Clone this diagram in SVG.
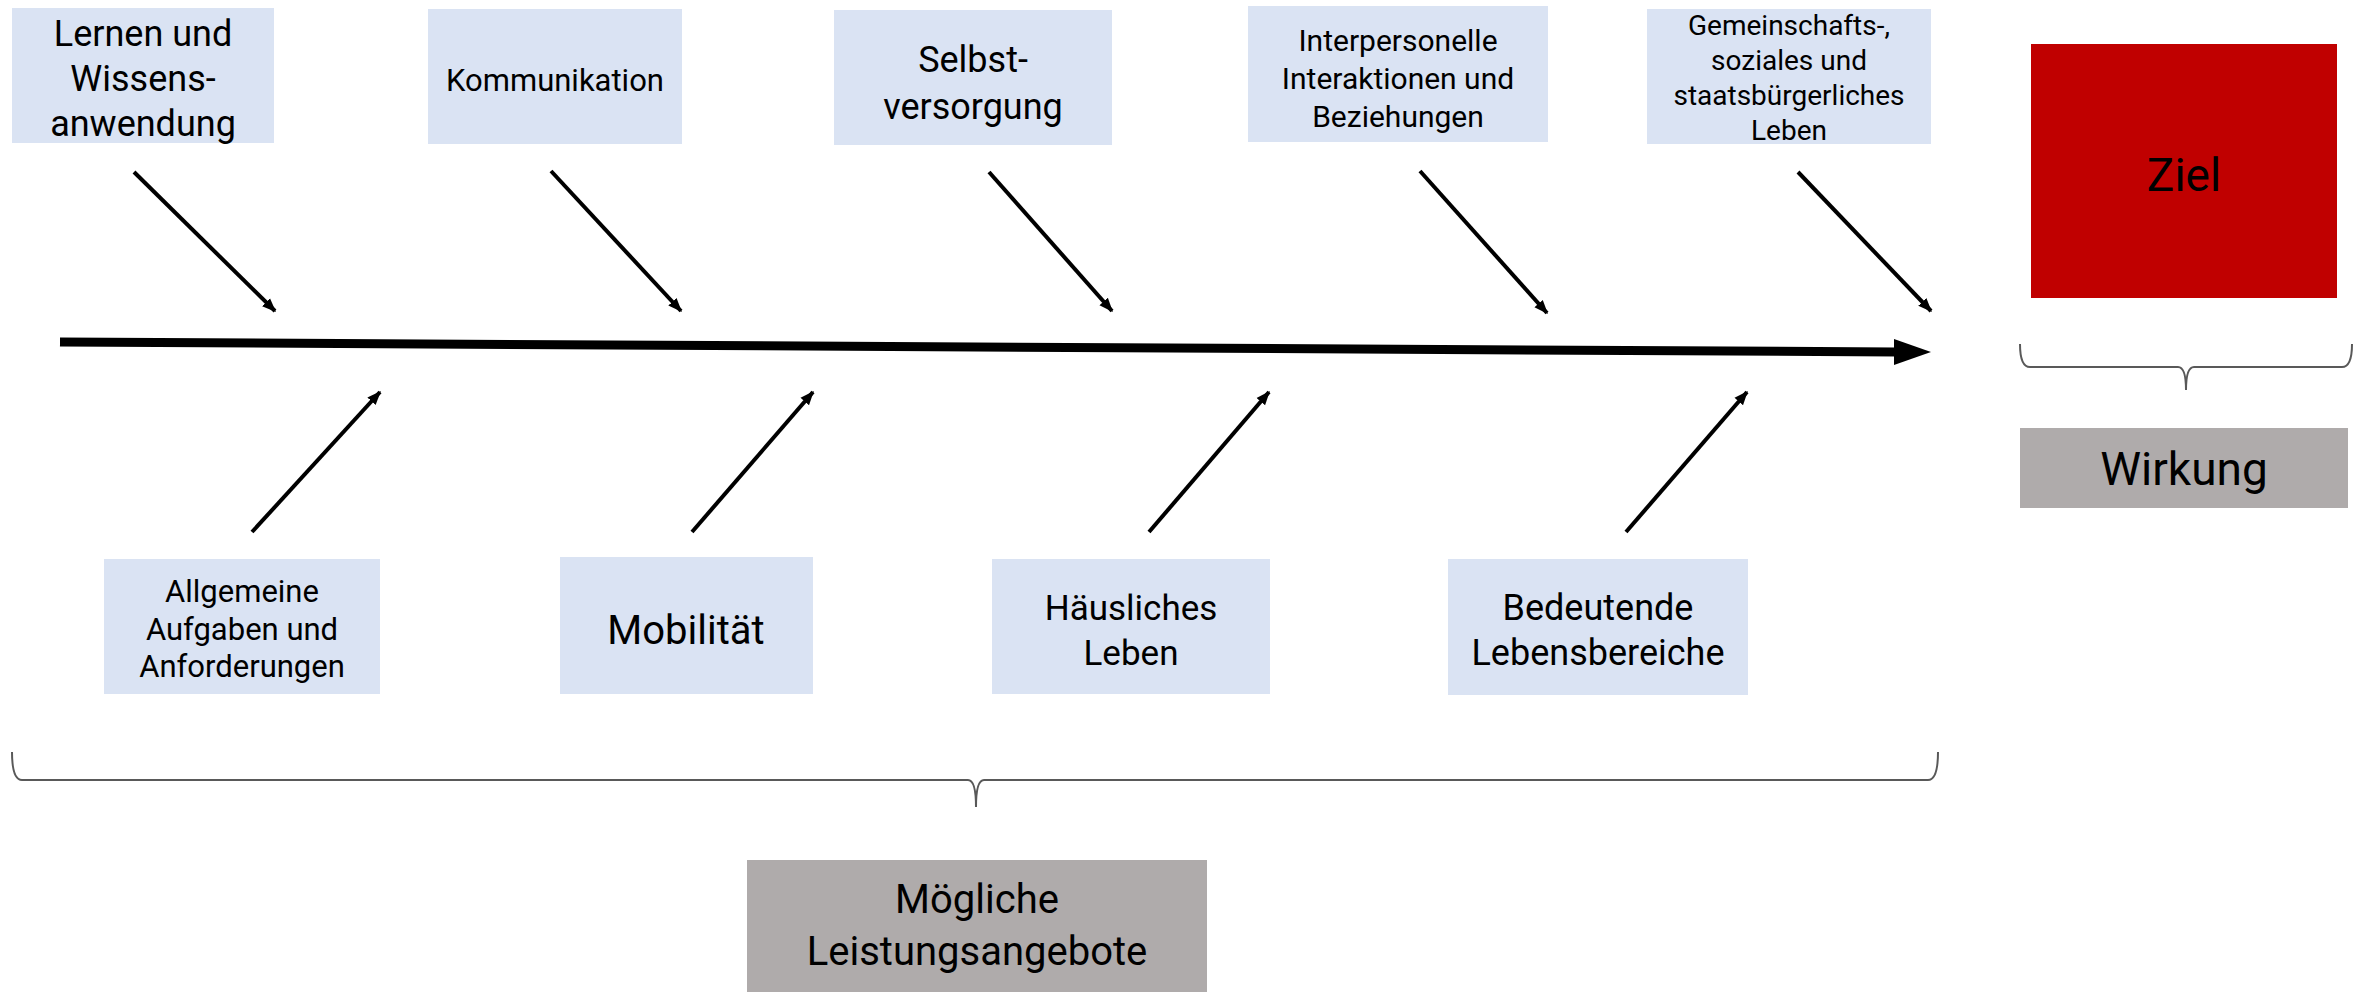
<svg xmlns="http://www.w3.org/2000/svg" width="2364" height="992" viewBox="0 0 2364 992">
<defs>
<style>
.box{fill:#DAE3F3;}
.gray{fill:#AFABAB;}
.t{font-family:Roboto,"Liberation Sans",sans-serif;fill:#000;text-anchor:middle;}
.br{fill:none;stroke:#595959;stroke-width:2;}
.d{stroke:#000;stroke-width:4;fill:none;marker-end:url(#ah);}
</style>
<marker id="ah" viewBox="0 0 10 10" refX="9" refY="5" markerWidth="3.5" markerHeight="3.5" orient="auto" markerUnits="strokeWidth">
<path d="M0,1 L10,5 L0,9 z" fill="#000"/>
</marker>
</defs>
<rect width="2364" height="992" fill="#fff"/>

<g id="connectors">
<line x1="60" y1="342" x2="1896" y2="352" stroke="#000" stroke-width="9"/>
<polygon points="1894,339 1931,352 1894,365" fill="#000"/>
<line class="d" x1="134" y1="172" x2="275" y2="311"/>
<line class="d" x1="551" y1="171" x2="681" y2="311"/>
<line class="d" x1="989" y1="172" x2="1112" y2="311"/>
<line class="d" x1="1420" y1="171" x2="1547" y2="313"/>
<line class="d" x1="1798" y1="172" x2="1931" y2="311"/>
<line class="d" x1="252" y1="532" x2="380" y2="392"/>
<line class="d" x1="692" y1="532" x2="813" y2="392"/>
<line class="d" x1="1149" y1="532" x2="1269" y2="392"/>
<line class="d" x1="1626" y1="532" x2="1747" y2="392"/>
</g>

<g id="n1"><rect class="box" x="12" y="8" width="262" height="135"/>
<text class="t" font-size="36"><tspan x="143" y="46">Lernen und</tspan><tspan x="143" y="91">Wissens-</tspan><tspan x="143" y="136">anwendung</tspan></text></g>
<g id="n2"><rect class="box" x="428" y="9" width="254" height="135"/>
<text class="t" font-size="31" x="555" y="91">Kommunikation</text></g>
<g id="n3"><rect class="box" x="834" y="10" width="278" height="135"/>
<text class="t" font-size="36"><tspan x="973" y="72">Selbst-</tspan><tspan x="973" y="119">versorgung</tspan></text></g>
<g id="n4"><rect class="box" x="1248" y="6" width="300" height="136"/>
<text class="t" font-size="30"><tspan x="1398" y="51">Interpersonelle</tspan><tspan x="1398" y="89">Interaktionen und</tspan><tspan x="1398" y="127">Beziehungen</tspan></text></g>
<g id="n5"><rect class="box" x="1647" y="9" width="284" height="135"/>
<text class="t" font-size="28"><tspan x="1789" y="35">Gemeinschafts-,</tspan><tspan x="1789" y="70">soziales und</tspan><tspan x="1789" y="105">staatsbürgerliches</tspan><tspan x="1789" y="140">Leben</tspan></text></g>
<g id="ziel"><rect x="2031" y="44" width="306" height="254" fill="#C00000"/>
<text class="t" font-size="46" x="2184" y="191">Ziel</text></g>

<g id="n6"><rect class="box" x="104" y="559" width="276" height="135"/>
<text class="t" font-size="31"><tspan x="242" y="602">Allgemeine</tspan><tspan x="242" y="640">Aufgaben und</tspan><tspan x="242" y="677">Anforderungen</tspan></text></g>
<g id="n7"><rect class="box" x="560" y="557" width="253" height="137"/>
<text class="t" font-size="40" x="686" y="644">Mobilität</text></g>
<g id="n8"><rect class="box" x="992" y="559" width="278" height="135"/>
<text class="t" font-size="35"><tspan x="1131" y="620">Häusliches</tspan><tspan x="1131" y="665">Leben</tspan></text></g>
<g id="n9"><rect class="box" x="1448" y="559" width="300" height="136"/>
<text class="t" font-size="36"><tspan x="1598" y="620">Bedeutende</tspan><tspan x="1598" y="665">Lebensbereiche</tspan></text></g>

<g id="brace-right"><path class="br" d="M2020,344 Q2020,367 2030,367 L2178,367 Q2186,367 2186,390 Q2186,367 2194,367 L2342,367 Q2352,367 2352,344"/></g>
<g id="wirkung"><rect class="gray" x="2020" y="428" width="328" height="80"/>
<text class="t" font-size="46" x="2184" y="485">Wirkung</text></g>

<g id="brace-bottom"><path class="br" d="M12,752 Q12,780 22,780 L968,780 Q976,780 976,807 Q976,780 984,780 L1928,780 Q1938,780 1938,752"/></g>
<g id="leistung"><rect class="gray" x="747" y="860" width="460" height="132"/>
<text class="t" font-size="40"><tspan x="977" y="913">Mögliche</tspan><tspan x="977" y="965">Leistungsangebote</tspan></text></g>
</svg>
